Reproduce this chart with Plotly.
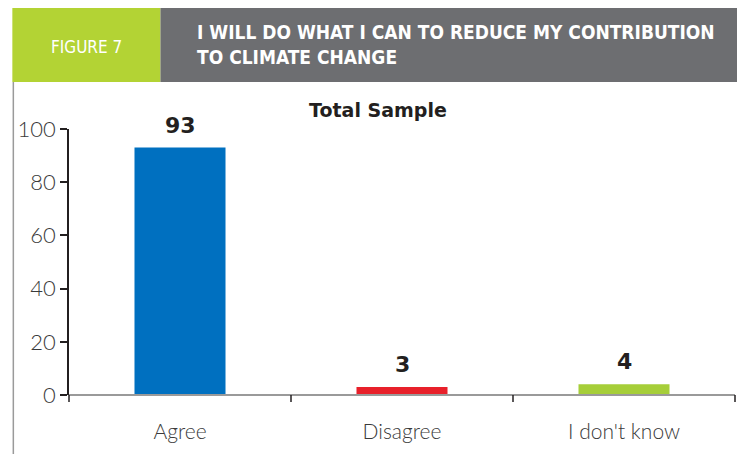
import plotly.graph_objects as go

categories = ["Agree", "Disagree", "I don't know"]
values = [93, 3, 4]
bar_colors = ["#0070C0", "#E8202A", "#A6CE39"]
y_ticks = [0, 20, 40, 60, 80, 100]

# page offset (browser body margin) compensation
OFF = 8
W, H = 745 - OFF, 454 - OFF
L, R, T, B = 65 - OFF, 735 - OFF, 129 - OFF, 395 - OFF

def px(x):
    return (x - OFF - L) / (R - L)

def py(y):
    return (B - (y - OFF)) / (B - T)

fig = go.Figure()
fig.add_trace(go.Bar(
    x=categories, y=values,
    marker=dict(color=bar_colors, line=dict(width=0)),
    width=0.41,
    hoverinfo="skip",
))

shapes = [
    dict(type="rect", xref="paper", yref="paper", x0=px(8), x1=px(157), y0=py(82), y1=py(8),
         fillcolor="#B3D334", line=dict(width=0), layer="above"),
    dict(type="rect", xref="paper", yref="paper", x0=px(157), x1=px(760), y0=py(82), y1=py(8),
         fillcolor="#6D6E71", line=dict(width=0), layer="above"),
    dict(type="line", xref="paper", yref="paper", x0=px(9), x1=px(9), y0=py(470), y1=py(82),
         line=dict(color="#9A9A9A", width=1.5)),
    dict(type="line", xref="paper", yref="paper", x0=0, x1=1, y0=0, y1=0,
         line=dict(color="#9A9A9A", width=2)),
]
for i in range(len(categories) + 1):
    xx = i / len(categories)
    shapes.append(dict(type="line", xref="paper", yref="paper", x0=xx, x1=xx,
                       y0=py(395 + 7), y1=0, line=dict(color="#231F20", width=1.5)))

annotations = [
    dict(text="FIGURE 7", xref="paper", yref="paper", x=px(83), y=py(47), showarrow=False,
         xanchor="center", yanchor="middle",
         font=dict(family="DejaVu Sans Condensed, Roboto", size=17, color="#FFFFFF")),
    dict(text="I WILL DO WHAT I CAN TO REDUCE MY CONTRIBUTION<br>TO CLIMATE CHANGE",
         xref="paper", yref="paper", x=px(192), y=py(45), showarrow=False,
         xanchor="left", yanchor="middle", align="left",
         font=dict(family="DejaVu Sans Condensed, Roboto", size=19, color="#FFFFFF", weight="bold")),
    dict(text="Total Sample", xref="paper", yref="paper", x=px(376), y=py(110), showarrow=False,
         xanchor="center", yanchor="middle",
         font=dict(family="DejaVu Sans", size=19, color="#231F20", weight="bold")),
]
for c, v in zip(categories, values):
    annotations.append(dict(
        text=str(v), x=c, y=v, xref="x", yref="y", showarrow=False,
        xanchor="center", yanchor="bottom", yshift=8,
        font=dict(family="DejaVu Sans", size=22, color="#231F20", weight="bold"),
    ))

fig.update_layout(
    width=W, height=H,
    margin=dict(l=L, r=W - R, t=T, b=H - B, pad=0),
    paper_bgcolor="#FFFFFF", plot_bgcolor="#FFFFFF",
    showlegend=False,
    shapes=shapes,
    annotations=annotations,
    xaxis=dict(
        showgrid=False, showline=False, zeroline=False, ticks="",
        tickfont=dict(family="Lato", size=21, color="#3A3A3A", weight=300),
        ticklabelstandoff=22,
        fixedrange=True,
    ),
    yaxis=dict(
        range=[0, 100], tickvals=y_ticks, showgrid=False, zeroline=False,
        showline=True, linecolor="#231F20", linewidth=1.5,
        ticks="outside", ticklen=7, tickcolor="#231F20", tickwidth=1.5,
        tickfont=dict(family="Lato", size=22, color="#3A3A3A", weight=300),
        fixedrange=True,
    ),
)

fig.write_html("out.html")
